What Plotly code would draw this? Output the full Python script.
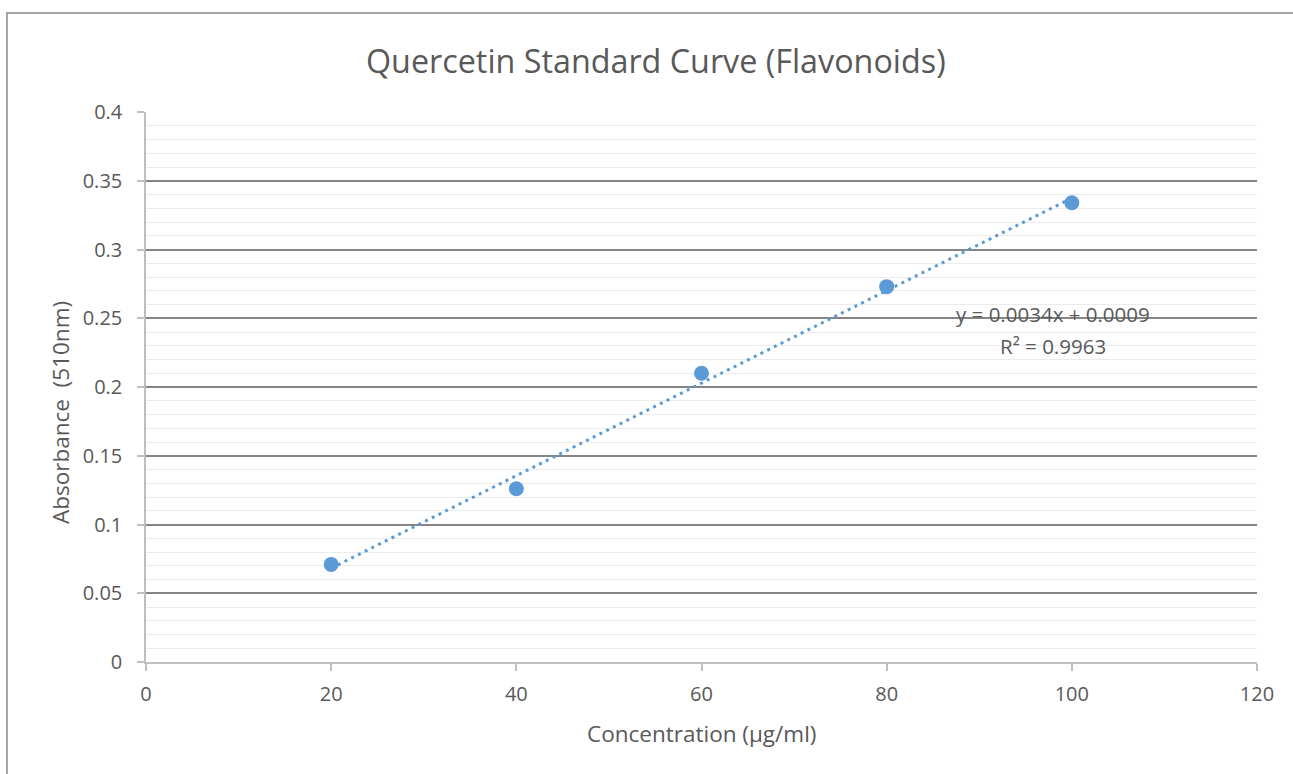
import numpy as np
import plotly.graph_objects as go

concentration = [20, 40, 60, 80, 100]
absorbance = [0.071, 0.126, 0.210, 0.273, 0.334]
x_ticks = [0, 20, 40, 60, 80, 100, 120]
y_ticks = [0, 0.05, 0.1, 0.15, 0.2, 0.25, 0.3, 0.35, 0.4]
y_tick_labels = ["0", "0.05", "0.1", "0.15", "0.2", "0.25", "0.3", "0.35", "0.4"]

slope, intercept = np.polyfit(concentration, absorbance, 1)
pred = np.polyval([slope, intercept], concentration)
ss_res = np.sum((np.array(absorbance) - pred) ** 2)
ss_tot = np.sum((np.array(absorbance) - np.mean(absorbance)) ** 2)
r2 = 1 - ss_res / ss_tot
trend_x = [min(concentration), max(concentration)]
trend_y = list(np.polyval([slope, intercept], trend_x))

FONT = "Open Sans"
TXT = "#595959"
BLUE = "#5B9BD5"

fig = go.Figure()
fig.add_trace(go.Scatter(x=trend_x, y=trend_y, mode="lines",
                         line=dict(color=BLUE, width=3, dash="3px,4.5px"),
                         showlegend=False, hoverinfo="skip"))
fig.add_trace(go.Scatter(x=concentration, y=absorbance, mode="markers",
                         marker=dict(color=BLUE, size=15),
                         showlegend=False))

fig.update_layout(
    width=1293, height=774,
    margin=dict(l=146, r=36, t=112, b=112),
    paper_bgcolor="white", plot_bgcolor="white",
    font=dict(family=FONT, color=TXT, size=19),
    xaxis=dict(range=[0, 120], tickvals=x_ticks, ticktext=[str(v) for v in x_ticks],
               showgrid=False, zeroline=False, showline=True, linecolor="#BFBFBF", linewidth=1.5,
               ticks="outside", ticklen=7, tickcolor="#BFBFBF", tickwidth=1.5,
               ticklabelstandoff=6,
               tickfont=dict(size=20, color=TXT, family=FONT)),
    yaxis=dict(range=[0, 0.4], tickvals=y_ticks, ticktext=y_tick_labels,
               showgrid=True, gridcolor="#858585", gridwidth=1.5,
               minor=dict(dtick=0.01, showgrid=True, gridcolor="#EBEBEB", gridwidth=1.2),
               zeroline=False, showline=True, linecolor="#BFBFBF", linewidth=1.5,
               ticks="outside", ticklen=7, tickcolor="#BFBFBF", tickwidth=1.5,
               ticklabelstandoff=11,
               tickfont=dict(size=20, color=TXT, family=FONT)),
    annotations=[
        dict(text="Quercetin Standard Curve (Flavonoids)", xref="paper", yref="paper",
             x=(656 - 146) / 1111, y=(662 - 60) / 550, xanchor="center", yanchor="middle",
             showarrow=False, font=dict(size=32.3, color=TXT, family=FONT)),
        dict(text="Concentration (µg/ml)", xref="paper", yref="paper",
             x=0.5, y=(662 - 733) / 550, xanchor="center", yanchor="middle",
             showarrow=False, font=dict(size=22.5, color=TXT, family=FONT)),
        dict(text="Absorbance  (510nm)", xref="paper", yref="paper",
             x=(60 - 146) / 1111, y=(662 - 413) / 550, xanchor="center", yanchor="middle",
             textangle=-90, showarrow=False, font=dict(size=22.5, color=TXT, family=FONT)),
        dict(text=f"y = {slope:.4f}x + {intercept:.4f}",
             xref="paper", yref="paper",
             x=(1053 - 146) / 1111, y=(662 - 314) / 550, xanchor="center", yanchor="middle",
             showarrow=False, font=dict(size=20.5, color=TXT, family=FONT)),
        dict(text=f"R² = {r2:.4f}",
             xref="paper", yref="paper",
             x=(1053 - 146) / 1111, y=(662 - 346) / 550, xanchor="center", yanchor="middle",
             showarrow=False, font=dict(size=20.5, color=TXT, family=FONT)),
    ],
    shapes=[
        dict(type="rect", xref="paper", yref="paper",
             x0=(7 - 146) / 1111, x1=(1300 - 146) / 1111,
             y0=(662 - 790) / 550, y1=(662 - 13) / 550,
             line=dict(color="#898989", width=1.5), fillcolor="rgba(0,0,0,0)", layer="below"),
    ],
)

fig.write_html("out.html", config={"displayModeBar": False},
               post_script="document.body.style.margin='0';document.body.style.overflow='hidden';")
